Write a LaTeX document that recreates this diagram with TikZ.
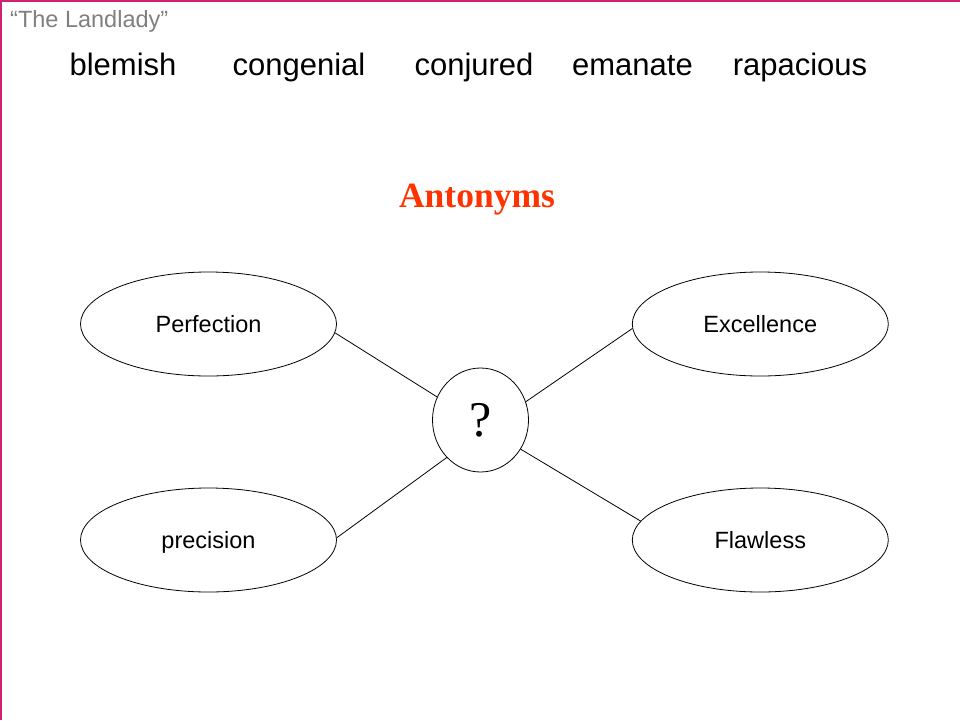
\documentclass[tikz,border=0pt]{standalone}
\usepackage{fontspec}
\setmainfont{Liberation Serif}
\setsansfont{Liberation Sans}
\usetikzlibrary{shapes.geometric}
\definecolor{frame}{RGB}{208,34,112}
\definecolor{titlegray}{RGB}{128,128,128}
\definecolor{antored}{RGB}{255,51,0}
\tikzset{
  word/.style={anchor=base, font=\sffamily\fontsize{31}{36}\selectfont, inner sep=0pt},
  oval/.style={draw=black, line width=0.8pt, ellipse, minimum width=256pt, minimum height=104pt, inner sep=0pt,
    font=\sffamily\fontsize{23.5}{27}\selectfont, text height=16.5pt, text depth=0pt},
  hub/.style={draw=black, line width=0.8pt, ellipse, minimum width=96pt, minimum height=104pt, inner sep=0pt,
    font=\rmfamily\fontsize{50}{56}\selectfont},
  link/.style={draw=black, line width=0.8pt}
}
\begin{document}
\begin{tikzpicture}[x=1pt,y=-1pt]
\useasboundingbox (0,0) rectangle (960,720);
\fill[white] (0,0) rectangle (960,720);
% frame lines
\draw[frame, line width=1.6pt] (1,720) -- (1,1) -- (960,1);
% title
\node[anchor=base west, inner sep=0pt, text=titlegray, font=\sffamily\fontsize{23.5}{27}\selectfont] (title) at (10,27.5) {“The Landlady”};
% vocabulary words
\node[word] (w1) at (123,75) {blemish};
\node[word] (w2) at (299,75) {congenial};
\node[word] (w3) at (474,75) {conjured};
\node[word] (w4) at (632.5,75) {emanate};
\node[word] (w5) at (800,75) {rapacious};
% heading
\node[anchor=base, inner sep=0pt, text=antored, font=\rmfamily\bfseries\fontsize{35.5}{40}\selectfont] (head) at (477,207) {Antonyms};
% ovals
\node[oval] (perf) at (208.5,324) {Perfection};
\node[oval] (exc) at (760.3,324) {Excellence};
\node[oval] (prec) at (208.5,540) {precision};
\node[oval] (flaw) at (760.3,540) {Flawless};
\node[hub] (q) at (480.5,420) {\raisebox{-3pt}{?}};
% connectors
\draw[link] (perf.-4) -- (q.152);
\draw[link] (exc.182) -- (q.22);
\draw[link] (prec.1.5) -- (q.228);
\draw[link] (flaw.171) -- (q.-36);
\end{tikzpicture}
\end{document}
